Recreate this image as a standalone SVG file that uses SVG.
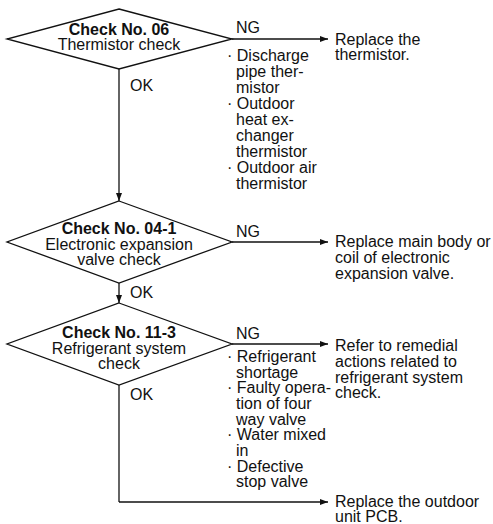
<svg xmlns="http://www.w3.org/2000/svg" width="493" height="524" viewBox="0 0 493 524">
  <defs>
    <marker id="arrow" viewBox="0 0 8 6" refX="8" refY="3" markerWidth="8" markerHeight="6" markerUnits="userSpaceOnUse" orient="auto">
      <path d="M0,0 L8,3 L0,6 z" fill="#111"/>
    </marker>
    <style>
      .shape { fill: #fff; stroke: #111; stroke-width: 1.3; }
      .wire { fill: none; stroke: #111; stroke-width: 1.3; }
      .arrowed { marker-end: url(#arrow); }
      text { font-family: "Liberation Sans", Arial, sans-serif; font-size: 16px; fill: #111; }
      .title { font-weight: bold; }
      .mid { text-anchor: middle; }
    </style>
  </defs>
  <rect width="493" height="524" fill="#fff"/>

  <!-- connectors -->
  <g id="connectors">
    <path class="wire arrowed" d="M119,69 L119,201"/>
    <path class="wire arrowed" d="M119,283 L119,303"/>
    <path class="wire" d="M119,385 L119,502"/>
    <path class="wire arrowed" d="M119,502 L328,502"/>
    <path class="wire arrowed" d="M232,39 L328,39"/>
    <path class="wire arrowed" d="M232,242 L328,242"/>
    <path class="wire arrowed" d="M232,344 L328,344"/>
    <text x="130" y="91">OK</text>
    <text x="130" y="298">OK</text>
    <text x="130" y="400">OK</text>
    <text x="236" y="33">NG</text>
    <text x="236" y="237">NG</text>
    <text x="236" y="339">NG</text>
  </g>

  <!-- decision: thermistor check -->
  <g id="check-06">
    <polygon class="shape" points="119,9 232,39 119,69 7,39"/>
    <text class="title mid" x="119" y="35">Check No. 06</text>
    <text class="mid" x="119" y="50">Thermistor check</text>
  </g>

  <g id="check-06-causes">
    <text x="227" y="61">· Discharge</text>
    <text x="236" y="77">pipe ther-</text>
    <text x="236" y="93">mistor</text>
    <text x="227" y="109">· Outdoor</text>
    <text x="236" y="125">heat ex-</text>
    <text x="236" y="141">changer</text>
    <text x="236" y="157">thermistor</text>
    <text x="227" y="173">· Outdoor air</text>
    <text x="236" y="189">thermistor</text>
  </g>

  <g id="replace-thermistor">
    <text x="335" y="45">Replace the</text>
    <text x="335" y="60">thermistor.</text>
  </g>

  <!-- decision: electronic expansion valve -->
  <g id="check-04-1">
    <polygon class="shape" points="119,201 232,242 119,283 7,242"/>
    <text class="title mid" x="119" y="234">Check No. 04-1</text>
    <text class="mid" x="119" y="250">Electronic expansion</text>
    <text class="mid" x="119" y="265">valve check</text>
  </g>

  <g id="replace-valve">
    <text x="335" y="247">Replace main body or</text>
    <text x="335" y="263">coil of electronic</text>
    <text x="335" y="279">expansion valve.</text>
  </g>

  <!-- decision: refrigerant system -->
  <g id="check-11-3">
    <polygon class="shape" points="119,303 232,344 119,385 7,344"/>
    <text class="title mid" x="119" y="338">Check No. 11-3</text>
    <text class="mid" x="119" y="354">Refrigerant system</text>
    <text class="mid" x="119" y="369">check</text>
  </g>

  <g id="check-11-3-causes">
    <text x="227" y="362">· Refrigerant</text>
    <text x="236" y="378">shortage</text>
    <text x="227" y="393">· Faulty opera-</text>
    <text x="236" y="409">tion of four</text>
    <text x="236" y="425">way valve</text>
    <text x="227" y="440">· Water mixed</text>
    <text x="236" y="456">in</text>
    <text x="227" y="472">· Defective</text>
    <text x="236" y="487">stop valve</text>
  </g>

  <g id="refrigerant-remedy">
    <text x="335" y="351">Refer to remedial</text>
    <text x="335" y="367">actions related to</text>
    <text x="335" y="383">refrigerant system</text>
    <text x="335" y="398">check.</text>
  </g>

  <g id="replace-pcb">
    <text x="335" y="507">Replace the outdoor</text>
    <text x="335" y="522">unit PCB.</text>
  </g>
</svg>
